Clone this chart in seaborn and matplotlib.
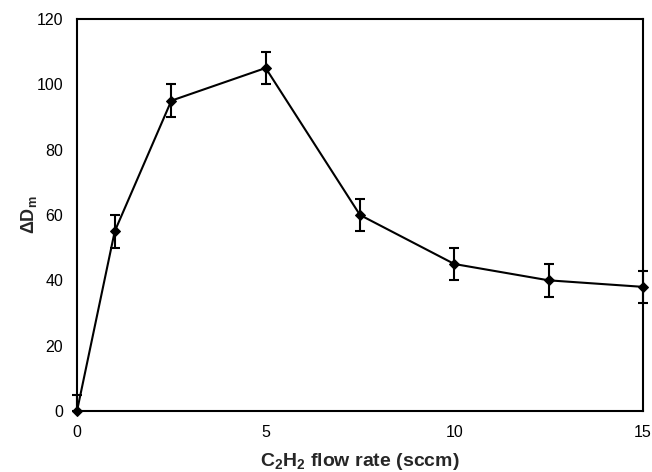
import matplotlib
matplotlib.use("Agg")
import matplotlib.pyplot as plt
import seaborn as sns
import pandas as pd
from matplotlib.ticker import MultipleLocator

flow_rate = [0, 1, 2.5, 5, 7.5, 10, 12.5, 15]
delta_dm = [0, 55, 95, 105, 60, 45, 40, 38]
err_low = [0, 5, 5, 5, 5, 5, 5, 5]
err_high = [5, 5, 5, 5, 5, 5, 5, 5]

df = pd.DataFrame({"flow": flow_rate, "dm": delta_dm, "lo": err_low, "hi": err_high})

sns.set_style("white")
plt.rcParams["font.family"] = ["Liberation Sans", "DejaVu Sans"]
plt.rcParams["mathtext.fontset"] = "custom"
plt.rcParams["mathtext.rm"] = "Liberation Sans"
plt.rcParams["mathtext.bf"] = "Liberation Sans:bold"
plt.rcParams["mathtext.it"] = "Liberation Sans:italic"

fig = plt.figure(figsize=(6.52, 4.72), dpi=100)
ax = fig.add_axes([77/652, 1-411/472, (643-77)/652, (411-19)/472])

ax.errorbar(df["flow"], df["dm"], yerr=[df["lo"], df["hi"]], fmt="none", ecolor="black",
            elinewidth=1.5, capsize=3.6, capthick=1.5, clip_on=False, zorder=3)
sns.lineplot(data=df, x="flow", y="dm", ax=ax, color="black", linewidth=1.5,
             marker="D", markersize=5.5, markeredgecolor="black",
             markerfacecolor="black", clip_on=False, zorder=4)

ax.set_xlim(0, 15)
ax.set_ylim(0, 120)
ax.xaxis.set_major_locator(MultipleLocator(5))
ax.xaxis.set_minor_locator(MultipleLocator(1))
ax.yaxis.set_major_locator(MultipleLocator(20))
ax.yaxis.set_minor_locator(MultipleLocator(4))
ax.tick_params(axis="both", which="both", direction="in", color="black",
               labelsize=11.5, width=1.2, labelcolor="black")
ax.tick_params(axis="both", which="major", length=4)
ax.tick_params(axis="x", which="major", pad=10)
ax.tick_params(axis="y", which="major", pad=10)
ax.tick_params(axis="both", which="minor", length=4)
ax.tick_params(axis="x", which="both", top=False)
ax.tick_params(axis="y", which="both", right=False)

for s in ax.spines.values():
    s.set_color("black")
    s.set_linewidth(1.5)
    s.set_visible(True)

ax.set_xlabel(r"C$_\mathbf{2}$H$_\mathbf{2}$ flow rate (sccm)", fontsize=14,
              fontweight="bold", labelpad=8)
ax.set_ylabel(r"$\mathbf{\Delta D_m}$", fontsize=13, fontweight="bold", labelpad=-1.5)

fig.savefig("out.png", dpi=100)
